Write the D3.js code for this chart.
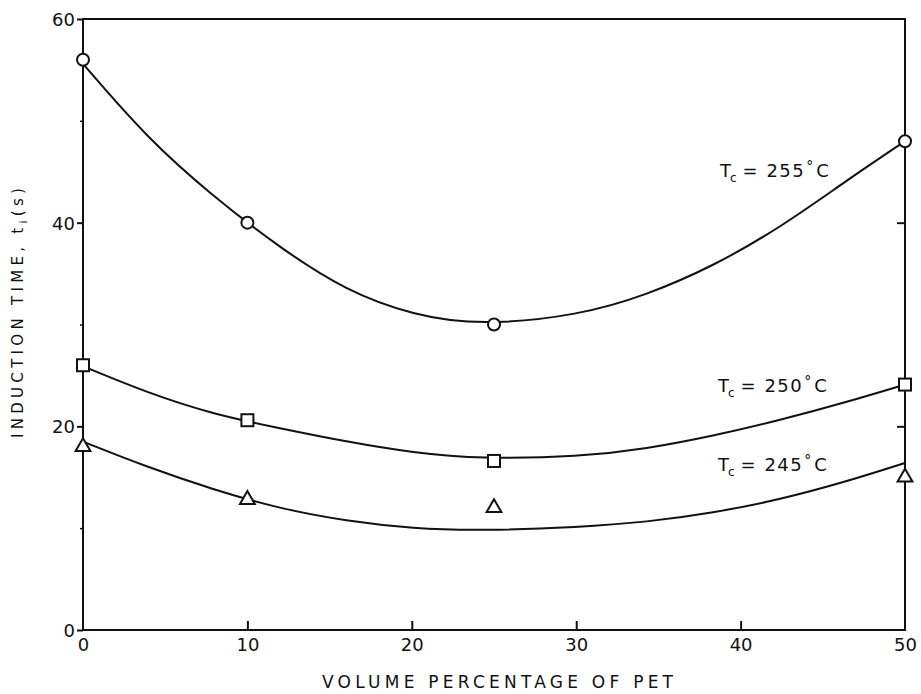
<!DOCTYPE html>
<html>
<head>
<meta charset="utf-8">
<script src="https://cdn.jsdelivr.net/npm/d3@7"></script>
<style>
  html, body { margin: 0; padding: 0; background: #fff; }
  svg { display: block; }
  text { font-family: "DejaVu Sans", sans-serif; fill: #111; }
</style>
</head>
<body>
<svg id="chart" width="921" height="694"></svg>
<script>
// Measured induction times (s) vs. volume percentage of PET
const pctPET = [0, 10, 25, 50];
const tc255 = [56, 40, 30, 48];
const tc250 = [26, 20.6, 16.6, 24.1];
const tc245 = [18, 12.8, 12, 15];

// Smoothed trend curves drawn through each series
const fitX   = [0, 3.9, 7.9, 12, 16, 20.1, 24.2, 30.2, 34.3, 38.3, 42.4, 46.5, 50];
const fit255 = [55.6, 48.3, 42.6, 37.5, 33.3, 30.9, 29.9, 30.9, 32.9, 35.7, 39.5, 44.2, 48];
const fit250 = [25.9, 23.3, 21.2, 19.8, 18.5, 17.4, 16.8, 17.0, 17.8, 19.05, 20.6, 22.4, 24.1];
const fit245 = [18.5, 16.0, 13.8, 11.9, 10.7, 9.95, 9.75, 10.1, 10.6, 11.5, 12.8, 14.6, 16.4];

const xTicks = [0, 10, 20, 30, 40, 50];
const yTicks = [0, 20, 40, 60];
const yMinor = [10, 30, 50];
const curveLabels = ["255", "250", "245"];

const svg = d3.select("#chart");
const plotL = 83, plotR = 905, plotT = 19, plotB = 630;

const x = d3.scaleLinear().domain([0, 50]).range([plotL, plotR]);
const y = d3.scaleLinear().domain([0, 60]).range([plotB, plotT]);

const ink = "#111";

// frame
svg.append("rect")
  .attr("x", plotL).attr("y", plotT)
  .attr("width", plotR - plotL).attr("height", plotB - plotT)
  .attr("fill", "none").attr("stroke", ink).attr("stroke-width", 2);

// left axis: outward ticks with labels
const gLeft = svg.append("g").attr("transform", `translate(${plotL},0)`)
  .call(d3.axisLeft(y).tickValues(yTicks).tickSize(6).tickPadding(2).tickFormat(d3.format("d")));
gLeft.select(".domain").remove();
gLeft.selectAll(".tick line").attr("stroke", ink).attr("stroke-width", 2);
gLeft.selectAll(".tick text").attr("font-size", 18).attr("fill", ink)
  .attr("font-family", "DejaVu Sans, sans-serif").attr("dy", "0.36em");

// left minor ticks
svg.append("g").attr("transform", `translate(${plotL},0)`)
  .call(d3.axisLeft(y).tickValues(yMinor).tickSize(3).tickFormat(""))
  .call(g => g.select(".domain").remove())
  .selectAll(".tick line").attr("stroke", ink).attr("stroke-width", 1.5);

// right axis: inward ticks
svg.append("g").attr("transform", `translate(${plotR},0)`)
  .call(d3.axisRight(y).tickValues([20, 40]).tickSize(-8).tickFormat(""))
  .call(g => g.select(".domain").remove())
  .selectAll(".tick line").attr("stroke", ink).attr("stroke-width", 2);

// bottom axis: inward ticks, labels below
const gBottom = svg.append("g").attr("transform", `translate(0,${plotB})`)
  .call(d3.axisBottom(x).tickValues(xTicks).tickSize(0).tickPadding(8).tickFormat(d3.format("d")));
gBottom.select(".domain").remove();
gBottom.selectAll(".tick text").attr("font-size", 18).attr("fill", ink)
  .attr("font-family", "DejaVu Sans, sans-serif");
svg.append("g").attr("transform", `translate(0,${plotB})`)
  .call(d3.axisBottom(x).tickValues([10, 20, 30, 40]).tickSize(-9).tickFormat(""))
  .call(g => g.select(".domain").remove())
  .selectAll(".tick line").attr("stroke", ink).attr("stroke-width", 2);

// axis titles
svg.append("text")
  .attr("x", 322).attr("y", 688)
  .attr("font-size", 17)
  .attr("textLength", 351).attr("lengthAdjust", "spacing")
  .text("VOLUME PERCENTAGE OF PET");

const yTitle = svg.append("text")
  .attr("transform", "translate(23,438) rotate(-90)")
  .attr("font-size", 15)
  .attr("textLength", 250).attr("lengthAdjust", "spacing");
yTitle.append("tspan").text("INDUCTION TIME, t");
yTitle.append("tspan").attr("font-size", 11).attr("dy", 4).text("i");
yTitle.append("tspan").attr("dy", -4).text("(s)");

// fitted curves
const line = d3.line()
  .x(d => x(d[0])).y(d => y(d[1]))
  .curve(d3.curveBasis);
[fit255, fit250, fit245].forEach(fit => {
  svg.append("path")
    .datum(d3.zip(fitX, fit))
    .attr("d", line)
    .attr("fill", "none").attr("stroke", ink).attr("stroke-width", 2);
});

// markers
svg.append("g").selectAll("circle").data(d3.zip(pctPET, tc255)).join("circle")
  .attr("cx", d => x(d[0])).attr("cy", d => y(d[1])).attr("r", 6)
  .attr("fill", "#fff").attr("stroke", ink).attr("stroke-width", 2);

const sq = 12;
svg.append("g").selectAll("rect").data(d3.zip(pctPET, tc250)).join("rect")
  .attr("x", d => x(d[0]) - sq / 2).attr("y", d => y(d[1]) - sq / 2)
  .attr("width", sq).attr("height", sq)
  .attr("fill", "#fff").attr("stroke", ink).attr("stroke-width", 2);

const tri = d3.symbol().type(d3.symbolTriangle).size(95);
svg.append("g").selectAll("path").data(d3.zip(pctPET, tc245)).join("path")
  .attr("d", tri)
  .attr("transform", d => `translate(${x(d[0])},${y(d[1])})`)
  .attr("fill", "#fff").attr("stroke", ink).attr("stroke-width", 2);

// curve labels
const labelPos = [[720, 177], [718, 392], [718, 471]];
curveLabels.forEach((t, i) => {
  const txt = svg.append("text")
    .attr("x", labelPos[i][0]).attr("y", labelPos[i][1])
    .attr("font-size", 18);
  txt.append("tspan").text("T");
  txt.append("tspan").attr("font-size", 12).attr("dy", 5).attr("dx", -1).text("c");
  txt.append("tspan").attr("dy", -5).attr("dx", 6).attr("letter-spacing", 1.5).text("= " + t);
  txt.append("tspan").attr("font-size", 14).attr("dy", -6).attr("dx", 1).text("°");
  txt.append("tspan").attr("dy", 6).attr("dx", 3).text("C");
});
</script>
</body>
</html>
